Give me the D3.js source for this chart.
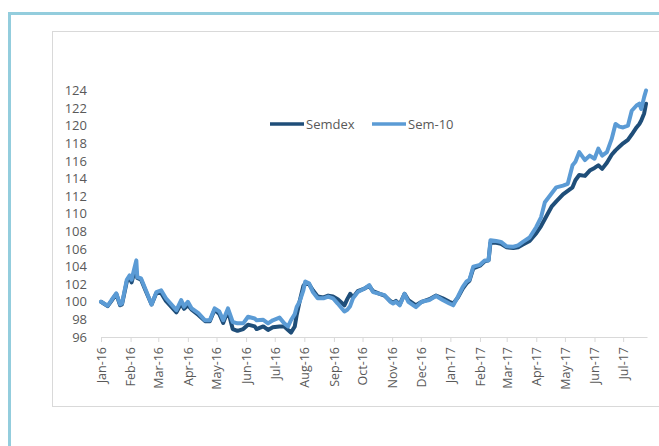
<!DOCTYPE html>
<html>
<head>
<meta charset="utf-8">
<script src="https://cdn.jsdelivr.net/npm/d3@7"></script>
<style>
  body { margin: 0; background: #fff; }
  svg { display: block; font-family: "Open Sans", sans-serif; }
</style>
</head>
<body>
<div id="chart"></div>
<script>
const dates = [
  "2016-01-01","2016-01-08","2016-01-12","2016-01-17","2016-01-21","2016-01-23","2016-01-28","2016-01-31",
  "2016-02-02","2016-02-04","2016-02-07","2016-02-08","2016-02-12","2016-02-17","2016-02-23","2016-02-28",
  "2016-03-04","2016-03-09","2016-03-20","2016-03-25","2016-03-28","2016-04-01","2016-04-05","2016-04-12",
  "2016-04-19","2016-04-24","2016-04-29","2016-05-04","2016-05-08","2016-05-13","2016-05-18","2016-05-23",
  "2016-05-29","2016-06-03","2016-06-10","2016-06-12","2016-06-19","2016-06-24","2016-06-29","2016-07-06",
  "2016-07-11","2016-07-15","2016-07-18","2016-07-22","2016-07-24","2016-07-27","2016-07-31","2016-08-02",
  "2016-08-06","2016-08-10","2016-08-15","2016-08-21","2016-08-26","2016-08-31","2016-09-05","2016-09-12",
  "2016-09-15","2016-09-18","2016-09-21","2016-09-26","2016-10-03","2016-10-08","2016-10-12","2016-10-19",
  "2016-10-24","2016-10-30","2016-11-02","2016-11-05","2016-11-09","2016-11-14","2016-11-18","2016-11-26",
  "2016-12-02","2016-12-10","2016-12-17","2016-12-24","2016-12-31","2017-01-04","2017-01-09","2017-01-14",
  "2017-01-18","2017-01-21","2017-01-25","2017-02-01","2017-02-06","2017-02-10","2017-02-12","2017-02-18",
  "2017-02-23","2017-03-01","2017-03-08","2017-03-13","2017-03-18","2017-03-25","2017-04-01","2017-04-06",
  "2017-04-10","2017-04-17","2017-04-22","2017-04-29","2017-05-04","2017-05-09","2017-05-12","2017-05-16",
  "2017-05-22","2017-05-27","2017-06-01","2017-06-05","2017-06-09","2017-06-14","2017-06-19","2017-06-23",
  "2017-06-27","2017-07-01","2017-07-06","2017-07-10","2017-07-15","2017-07-18","2017-07-20","2017-07-23",
  "2017-07-25"
];

const semdex = [
  100.0, 99.5, 100.1, 100.9, 99.6, 99.7, 102.3, 102.8,
  102.2, 103.0, 103.4, 102.7, 102.5, 101.2, 99.7, 101.0,
  101.0, 100.1, 98.8, 99.8, 99.2, 99.6, 99.1, 98.5,
  97.8, 97.8, 99.1, 98.6, 97.6, 99.0, 96.9, 96.7,
  96.9, 97.4, 97.2, 96.9, 97.2, 96.8, 97.1, 97.2,
  97.2, 96.8, 96.5, 97.2, 98.5, 100.0, 101.8, 102.1,
  102.0, 101.3, 100.6, 100.5, 100.7, 100.6, 100.3, 99.6,
  100.3, 100.9, 100.5, 101.2, 101.5, 101.8, 101.2, 100.9,
  100.7, 100.1, 99.9, 100.1, 99.7, 100.9, 100.2, 99.6,
  100.0, 100.3, 100.7, 100.4, 100.0, 99.8, 100.5, 101.5,
  102.1, 102.4, 103.8, 104.1, 104.6, 104.7, 106.7, 106.7,
  106.6, 106.2, 106.1, 106.2, 106.5, 106.9, 107.8, 108.6,
  109.4, 110.8, 111.4, 112.2, 112.6, 113.0, 113.8, 114.4,
  114.3, 114.9, 115.2, 115.5, 115.1, 115.8, 116.7, 117.2,
  117.6, 118.0, 118.4, 119.0, 119.8, 120.2, 120.6, 121.4,
  122.5
];

const sem10 = [
  100.0, 99.55, 100.2, 100.95, 99.7, 99.8, 102.5, 103.0,
  102.5, 103.4, 104.7, 102.8, 102.65, 101.3, 99.7, 101.1,
  101.3, 100.4, 99.05, 100.2, 99.45, 100.0, 99.25, 98.7,
  97.9, 97.9, 99.25, 98.9, 97.9, 99.25, 97.7, 97.55,
  97.55, 98.3, 98.1, 97.9, 97.95, 97.55, 97.9, 98.2,
  97.55, 97.2, 97.9, 98.6, 99.4, 100.0, 101.3, 102.3,
  102.1, 101.1, 100.4, 100.4, 100.6, 100.4, 99.8, 98.9,
  99.1, 99.5, 100.4, 101.1, 101.5, 101.9, 101.1, 100.9,
  100.75, 100.0, 99.8, 100.0, 99.6, 100.9, 100.0, 99.4,
  100.0, 100.2, 100.65, 100.2, 99.8, 99.6, 100.6, 101.7,
  102.3, 102.5, 104.0, 104.2, 104.7, 104.7, 107.0, 106.9,
  106.8, 106.3, 106.25, 106.4, 106.8, 107.3, 108.5, 109.6,
  111.3, 112.3, 113.0, 113.2, 113.4, 115.5, 115.9, 117.0,
  116.1, 116.6, 116.25, 117.4, 116.6, 117.0, 118.5, 120.2,
  119.9, 119.8, 120.0, 121.7, 122.3, 122.5, 121.9, 123.25,
  124.0
];

const seriesNames = ["Semdex", "Sem-10"];
const seriesColors = ["#1f4e79", "#5b9bd5"];
const yTicks = [96, 98, 100, 102, 104, 106, 108, 110, 112, 114, 116, 118, 120, 122, 124];
const xTickLabels = ["Jan-16","Feb-16","Mar-16","Apr-16","May-16","Jun-16","Jul-16","Aug-16","Sep-16",
  "Oct-16","Nov-16","Dec-16","Jan-17","Feb-17","Mar-17","Apr-17","May-17","Jun-17","Jul-17"];

const W = 659, H = 446;
const parseDate = d3.timeParse("%Y-%m-%d");
const parseTick = d3.timeParse("%b-%y");

const svg = d3.select("#chart").append("svg")
  .attr("width", W)
  .attr("height", H);

// outer teal frame (left + top only, runs off the edges)
svg.append("path")
  .attr("d", "M9.5," + H + "V13.5H" + (W + 5))
  .attr("fill", "none")
  .attr("stroke", "#93cddd")
  .attr("stroke-width", 3);

// chart area border
svg.append("rect")
  .attr("x", 52.5).attr("y", 31.5)
  .attr("width", W).attr("height", 375)
  .attr("fill", "#fff")
  .attr("stroke", "#d9d9d9")
  .attr("stroke-width", 1);

const x = d3.scaleTime()
  .domain([parseDate("2016-01-01"), parseDate("2017-07-26")])
  .range([101, 647]);

const y = d3.scaleLinear()
  .domain([96, 124])
  .range([337, 90.5]);

// y axis: labels only
const yAxis = svg.append("g")
  .attr("transform", "translate(101,0)")
  .call(d3.axisLeft(y).tickValues(yTicks).tickSize(0).tickPadding(14).tickFormat(d3.format("d")));
yAxis.select(".domain").remove();
yAxis.selectAll("text")
  .attr("fill", "#595959")
  .style("font-size", "13px")
  .style("font-family", "'Open Sans', sans-serif");

// x axis with rotated month labels
const xAxis = svg.append("g")
  .attr("transform", "translate(0,337)")
  .call(d3.axisBottom(x)
    .tickValues(xTickLabels.map(parseTick))
    .tickFormat(d3.timeFormat("%b-%y"))
    .tickSize(5)
    .tickSizeOuter(0));
xAxis.select(".domain").attr("stroke", "#d9d9d9");
xAxis.selectAll(".tick line").attr("stroke", "#d9d9d9");
xAxis.selectAll("text")
  .attr("transform", "rotate(-90)")
  .attr("x", -10)
  .attr("y", 0)
  .attr("dy", "0.35em")
  .style("text-anchor", "end")
  .attr("fill", "#595959")
  .style("font-size", "12.5px")
  .style("font-family", "'Open Sans', sans-serif");

const parsed = dates.map(parseDate);
const line = d3.line()
  .x((d, i) => x(parsed[i]))
  .y(d => y(d));

[semdex, sem10].forEach((vals, k) => {
  svg.append("path")
    .datum(vals)
    .attr("d", line)
    .attr("fill", "none")
    .attr("stroke", seriesColors[k])
    .attr("stroke-width", 4)
    .attr("stroke-linejoin", "round")
    .attr("stroke-linecap", "round");
});

// legend
const legendX = [270, 372];
const legend = svg.selectAll("g.legend")
  .data(seriesNames)
  .enter().append("g")
  .attr("class", "legend")
  .attr("transform", (d, i) => "translate(" + legendX[i] + ",124)");
legend.append("line")
  .attr("x1", 0).attr("x2", 34)
  .attr("stroke", (d, i) => seriesColors[i])
  .attr("stroke-width", 3.5);
legend.append("text")
  .attr("x", 36)
  .attr("dy", "0.35em")
  .attr("fill", "#595959")
  .style("font-size", "13px")
  .text(d => d);
</script>
</body>
</html>
